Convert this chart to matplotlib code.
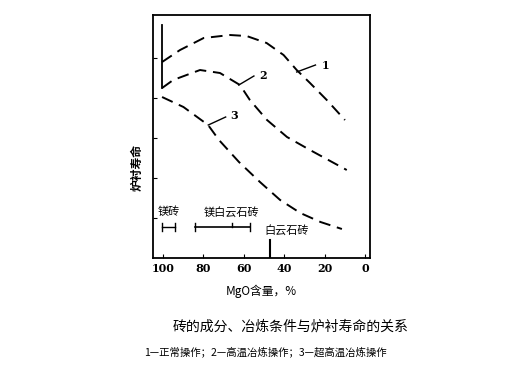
import matplotlib
matplotlib.use("Agg")
import matplotlib.pyplot as plt

plt.rcParams['font.family'] = ['Noto Sans CJK SC', 'DejaVu Sans']

# curves (MgO %, relative lining life)
mgo_1 = [100.5, 91.6, 79.9, 66.8, 58.6, 48.7, 40.3, 33.8, 27.2, 18.9, 9.9]
life_1 = [196, 208, 220, 223, 222, 215, 203, 188, 175, 158, 138]
mgo_2 = [100.5, 95, 81.7, 71.8, 61.9, 57, 48.5, 38.6, 27.2, 9]
life_2 = [170, 178, 188, 185, 173, 158, 138, 121, 108, 88]
mgo_3 = [100.5, 89.9, 77.7, 72.3, 62.4, 52, 42, 32, 22, 11.4]
life_3 = [161, 151, 133, 118, 96, 76, 58, 45, 36, 29]

xticks = [100, 80, 60, 40, 20, 0]

# brick ranges
mag_range = [100.5, 94]
dolo_mag_range = [84, 57]
dolo_mid = 66
dolo_limit = 47

fig = plt.figure(figsize=(5.25, 3.86), dpi=100)
ax = fig.add_axes([0.2914, 0.3316, 0.4133, 0.6295])

dash = (0, (6, 3.5))
for xs, ys in [(mgo_1, life_1), (mgo_2, life_2), (mgo_3, life_3)]:
    ax.plot(xs, ys, color='black', lw=1.4, linestyle=dash)

# solid start line at 100 %
ax.plot([100.5, 100.5], [233, life_2[0]], color='black', lw=1.3)

# curve labels with leaders
ax.plot([33.8, 24.5], [186, 193], color='black', lw=1)
ax.text(21.5, 193, '1', fontsize=8, fontweight='bold', va='center', family='DejaVu Serif')
ax.plot([62.5, 55], [173, 182], color='black', lw=1)
ax.text(52.5, 183, '2', fontsize=8, fontweight='bold', va='center', family='DejaVu Serif')
ax.plot([77.6, 69], [133, 141], color='black', lw=1)
ax.text(66.5, 143, '3', fontsize=8, fontweight='bold', va='center', family='DejaVu Serif')

# brick range annotations
ax.text(97, 46, '镁砖', fontsize=8, ha='center', va='center')
ax.plot(mag_range, [31, 31], color='black', lw=1)
for v in mag_range:
    ax.plot([v, v], [27, 35], color='black', lw=1)

ax.text(66, 46, '镁白云石砖', fontsize=8, ha='center', va='center')
ax.plot(dolo_mag_range, [31, 31], color='black', lw=1.2)
for v in dolo_mag_range:
    ax.plot([v, v], [27, 35], color='black', lw=1)
ax.plot([dolo_mid, dolo_mid], [31, 35], color='black', lw=1)

ax.text(39, 28, '白云石砖', fontsize=8, ha='center', va='center')
ax.plot([dolo_limit, dolo_limit], [0, 18], color='black', lw=1.5)

ax.set_xlim(105, -2.5)
ax.set_ylim(0, 243)
ax.set_xticks(xticks)
ax.set_xticklabels([str(t) for t in xticks], family='DejaVu Serif', fontsize=8, fontweight='bold')
ax.set_yticks([40, 80, 120, 160, 200])
ax.set_yticklabels([])
ax.tick_params(direction='in', length=3, width=0.8)
for s in ax.spines.values():
    s.set_linewidth(1.3)

fig.text(0.262, 0.565, '炉衬寿命', fontsize=8.5, fontweight='bold', rotation=90,
         ha='center', va='center')
ax.set_xlabel('MgO含量，%', fontsize=8.5, labelpad=8)

fig.text(0.553, 0.155, '砖的成分、冶炼条件与炉衬寿命的关系', fontsize=10, ha='center', va='center')
fig.text(0.505, 0.088, '1—正常操作；2—高温冶炼操作；3—超高温冶炼操作', fontsize=7.5, ha='center', va='center')

fig.savefig('out.png', dpi=100)
